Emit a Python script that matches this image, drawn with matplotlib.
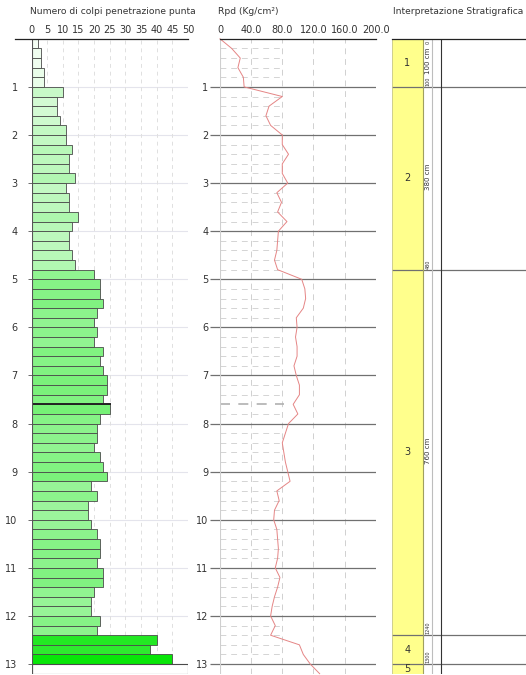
import matplotlib
matplotlib.use("Agg")
import matplotlib.pyplot as plt
from matplotlib.lines import Line2D
import numpy as np

plt.rcParams['font.family'] = ['DejaVu Sans']

# --- data ---
step = 0.2  # m, interval of each blow count
blows = [2, 3, 3, 4, 4,
         10, 8, 8, 9, 11,
         11, 13, 12, 12, 14,
         11, 12, 12, 15, 13,
         12, 12, 13, 14, 20,
         22, 22, 23, 21, 20,
         21, 20, 23, 22, 23,
         24, 24, 23, 25, 22,
         21, 21, 20, 22, 23,
         24, 19, 21, 18, 18,
         19, 21, 22, 22, 21,
         23, 23, 20, 19, 19,
         22, 21, 40, 38, 45]
refusal_blows = 50  # last (empty) interval 13.0 - 13.2

rpd_depth = [0.0, 0.2, 0.4, 0.6, 0.8, 1.0, 1.2, 1.4, 1.6, 1.8, 2.0, 2.2, 2.4, 2.6, 2.8,
             3.0, 3.2, 3.4, 3.6, 3.8, 4.0, 4.2, 4.4, 4.6, 4.8, 5.0, 5.2, 5.4, 5.6, 5.8,
             6.0, 6.2, 6.4, 6.6, 6.8, 7.0, 7.2, 7.4, 7.6, 7.8, 8.0, 8.2, 8.4, 8.6, 8.8,
             9.0, 9.2, 9.4, 9.6, 9.8, 10.0, 10.2, 10.4, 10.6, 10.8, 11.0, 11.2, 11.4,
             11.6, 11.8, 12.0, 12.2, 12.4, 12.6, 12.8, 13.0, 13.2]
rpd = [0, 15, 26, 23, 30, 31, 80, 63, 59, 65, 80, 80, 88, 80, 80,
       87, 73, 79, 74, 86, 75, 74, 73, 70, 74, 105, 109, 110, 107, 98,
       99, 97, 99, 99, 95, 98, 102, 102, 94, 100, 88, 84, 80, 82, 84,
       87, 90, 73, 76, 70, 69, 73, 74, 75, 74, 71, 77, 74,
       70, 67, 65, 71, 65, 102, 107, 116, 128]

layer_top = [0.0, 1.0, 4.8, 12.4, 13.0]
layer_bot = [1.0, 4.8, 12.4, 13.0, 13.2]
layer_name = ['1', '2', '3', '4', '5']
layer_thick = ['100 cm', '380 cm', '760 cm', '', '']
boundary_lbl = ['0', '100', '480', '1240', '1300']

depth_ticks = list(range(1, 14))
blow_ticks = [0, 5, 10, 15, 20, 25, 30, 35, 40, 45, 50]
rpd_ticks = [0, 40, 80, 120, 160, 200]
rpd_tick_lbl = ['0', '40.0', '80.0', '120.0', '160.0', '200.0']
water_depth = 7.6

# --- layout in pixels ---
W, H = 526, 675
fig = plt.figure(figsize=(W / 100, H / 100), dpi=100)
Y0, Y1 = 38.8, 673.7
DMAX = 13.2


def px_axes(left, right):
    return fig.add_axes([left / W, 1 - Y1 / H, (right - left) / W, (Y1 - Y0) / H])


def fx(x):
    return x / W


def fy(y):
    return 1 - y / H


txt_col = '#333333'

# ---------------- blows panel ----------------
ax1 = px_axes(31.5, 188)
ax1.set_xlim(0, 50)
ax1.set_ylim(DMAX, 0)
for s in ax1.spines.values():
    s.set_visible(False)
for d in depth_ticks:
    ax1.axhline(d, color='#e4e4ec', lw=0.8, zorder=0)
for x in blow_ticks[1:]:
    ax1.axvline(x, color='#e0e0e0', lw=0.7, ls=(0, (4, 4)), zorder=0)

tops = np.arange(len(blows)) * step
colors = []
for v in blows:
    t = min(v / 45.0, 1.0)
    colors.append((1 - 0.97 * t, 1 - 0.1 * t, 1 - 0.97 * t))
ax1.barh(tops, blows, height=step, align='edge', color=colors,
         edgecolor='#4a4a4a', linewidth=0.6, zorder=2)
ax1.barh([len(blows) * step], [refusal_blows], height=step, align='edge',
         color='white', edgecolor='#4a4a4a', linewidth=0.8, zorder=2)
ax1.axhline(water_depth, xmin=0, xmax=25 / 50, color='#222222', lw=1.4, zorder=3)
ax1.axvline(0, color='#555555', lw=0.8, zorder=3)

ax1.set_yticks(depth_ticks)
ax1.set_yticklabels([str(d) for d in depth_ticks])
ax1.tick_params(axis='y', length=3, width=0.6, color='#555555', pad=7,
                labelsize=7, labelcolor=txt_col)
ax1.xaxis.tick_top()
ax1.set_xticks(blow_ticks)
ax1.set_xticklabels([str(v) for v in blow_ticks])
ax1.tick_params(axis='x', length=0, pad=3, labelsize=7, labelcolor=txt_col)
fig.add_artist(Line2D([fx(15), fx(188)], [fy(Y0), fy(Y0)], color='#222222', lw=0.9))
fig.text(fx(30), fy(12), 'Numero di colpi penetrazione punta', fontsize=6.6,
         color=txt_col, ha='left', va='center')

# ---------------- Rpd panel ----------------
ax2 = px_axes(220, 375.7)
ax2.set_xlim(0, 200)
ax2.set_ylim(DMAX, 0)
for s in ax2.spines.values():
    s.set_visible(False)
for x in rpd_ticks:
    ax2.axvline(x, color='#d0d0d0', lw=0.7, ls=(0, (6, 5)), zorder=0)
for d in tops:
    if abs(d - round(d)) > 1e-6:
        is_water = abs(d - water_depth) < 1e-6
        ax2.plot([0, 82], [d, d], color='#b0b0b0' if is_water else '#d4d4d4',
                 lw=1.2 if is_water else 0.7, ls=(0, (6, 5)), zorder=1)
for d in depth_ticks:
    ax2.axhline(d, color='#707070', lw=0.9, zorder=2)
ax2.plot(rpd, rpd_depth, color='#e58585', lw=0.7, zorder=4, clip_on=False)
ax2.axvline(0, color='#cfcfcf', lw=0.8)

ax2.set_yticks(depth_ticks)
ax2.set_yticklabels([str(d) for d in depth_ticks])
ax2.tick_params(axis='y', length=7.5, width=0.9, color='#707070', pad=1,
                labelsize=7, labelcolor=txt_col)
ax2.xaxis.tick_top()
ax2.set_xticks(rpd_ticks)
ax2.set_xticklabels(rpd_tick_lbl)
ax2.tick_params(axis='x', length=0, pad=3, labelsize=7, labelcolor=txt_col)
fig.add_artist(Line2D([fx(220), fx(376)], [fy(Y0), fy(Y0)], color='#222222', lw=0.9))
fig.text(fx(218), fy(12), 'Rpd (Kg/cm\u00b2)', fontsize=6.6, color=txt_col,
         ha='left', va='center')

# ---------------- stratigraphy panel ----------------
ax3 = px_axes(392, 526)
ax3.set_xlim(0, 134)
ax3.set_ylim(DMAX, 0)
ax3.axis('off')
for top, bot, name, thick in zip(layer_top, layer_bot, layer_name, layer_thick):
    ax3.fill_between([0, 31], top, bot, color='#ffff8c', lw=0, zorder=1)
    mid = (top + bot) / 2
    ax3.text(15.5, min(mid, 13.15), name, fontsize=7, color=txt_col,
             ha='center', va='center', zorder=3)
    if thick:
        ax3.text(36, mid - 0.04, thick, fontsize=5, color=txt_col, rotation=90,
                 ha='center', va='center', zorder=3)
for d, lbl in zip(layer_top, boundary_lbl):
    if d == 0:
        ax3.text(36, d + 0.05, lbl, fontsize=3.5, color=txt_col, rotation=90,
                 ha='center', va='top')
    else:
        ax3.text(36, d - 0.02, lbl, fontsize=3.5, color=txt_col, rotation=90,
                 ha='center', va='bottom')
        ax3.plot([0, 134], [d, d], color='#707070', lw=0.9, zorder=2)
ax3.plot([31, 31], [0, DMAX], color='#a0a060', lw=0.8, zorder=2)
ax3.plot([0, 0], [0, DMAX], color='#c8c890', lw=0.6, zorder=2)
ax3.plot([40, 40], [0, DMAX], color='#bdbdbd', lw=0.8, zorder=2)
ax3.plot([49, 49], [0, DMAX], color='#333333', lw=0.8, zorder=2)
fig.add_artist(Line2D([fx(392), fx(526)], [fy(Y0), fy(Y0)], color='#222222', lw=0.9))
fig.text(fx(458), fy(12), 'Interpretazione Stratigrafica', fontsize=6.6,
         color=txt_col, ha='center', va='center')

fig.savefig('out.png', dpi=100, facecolor='white')
